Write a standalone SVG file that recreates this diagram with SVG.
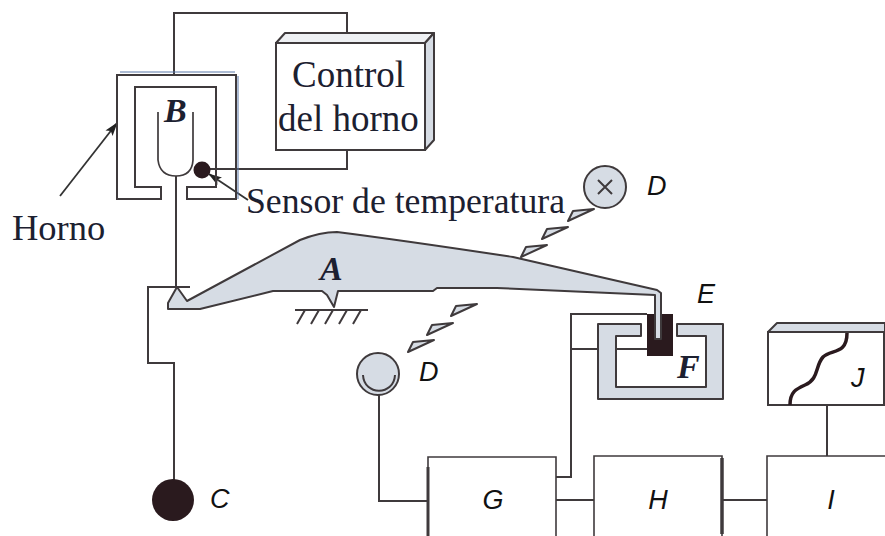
<svg xmlns="http://www.w3.org/2000/svg" width="885" height="536" viewBox="0 0 885 536">
<style>
.w{fill:none;stroke:#3f3a3c;stroke-width:2}
.s{fill:#d6dce4;stroke:#3f3a3c;stroke-width:2;stroke-linejoin:round}
.b{fill:#fff;stroke:#3f3a3c;stroke-width:1.6}
.t{font-family:"Liberation Serif",serif;font-size:36.5px;fill:#1c2030}
.l{font-family:"Liberation Serif",serif;font-size:34px;font-weight:bold;font-style:italic;fill:#1c2030}
.i{font-family:"Liberation Sans",Arial,sans-serif;font-size:27px;font-style:italic;fill:#111}
</style>
<defs>
<marker id="ah" markerWidth="14" markerHeight="9" refX="13" refY="4.5" orient="auto" markerUnits="userSpaceOnUse"><path d="M0 0L14 4.5L0 9L3 4.5Z" fill="#222"/></marker>
<polygon id="ray" points="0,12 5,2 26,0" class="s"/>
</defs>
<rect width="885" height="536" fill="#fff"/>
<g id="connectors">
<path class="w" d="M174 75V13H347V33"/>
<path class="w" d="M347 150V169H208"/>
<path class="w" d="M176 176V287"/>
<path class="w" d="M190 287H148V363H174V482"/>
<path class="w" d="M379 394V501H428"/>
<path class="w" d="M647 314H571V477H556"/>
<path class="w" d="M571 349H598"/>
<path class="w" d="M616 349H647"/>
<path class="w" d="M556 500H594"/>
<path class="w" d="M722 500H767"/>
<path class="w" d="M827 456V405"/>
<path fill="none" stroke="#333" stroke-width="1.8" d="M60 196L117 123" marker-end="url(#ah)"/>
<path fill="none" stroke="#333" stroke-width="1.8" d="M248 200L209 174" marker-end="url(#ah)"/>
</g>
<g id="horno">
<path d="M120 72H235M238 76V199" fill="none" stroke="#5a78a8" stroke-width="1"/>
<path class="w" d="M161 199V187H135V87H216V187H187V199H236V75H117V199Z"/>
<text class="t" x="12" y="240">Horno</text>
</g>
<g id="crucible">
<path class="w" d="M158 112V160Q160 176 176 176Q192 176 193 160V112" style="stroke-width:1.7"/>
<text class="l" x="164" y="122">B</text>
</g>
<g id="sensor">
<circle cx="202" cy="170" r="8.5" fill="#2a1a1e"/>
<text class="t" x="246" y="213" style="font-size:35.7px">Sensor de temperatura</text>
</g>
<g id="control">
<path class="s" d="M276 43L285 33H434L425 43Z" style="fill:#eef0f3"/>
<path class="s" d="M425 43L434 33V140L425 150Z"/>
<rect class="b" x="276" y="43" width="149" height="107" style="stroke-width:2"/>
<text class="t" x="292" y="87" style="font-size:37px">Control</text>
<text class="t" x="278" y="131" style="font-size:37px">del horno</text>
</g>
<g id="source-d">
<circle class="s" cx="605" cy="187" r="21"/>
<path class="w" d="M598 180L612 194M612 180L598 194"/>
<use href="#ray" x="568" y="209"/>
<use href="#ray" x="542" y="227"/>
<use href="#ray" x="521" y="245"/>
<text class="i" x="647" y="195">D</text>
</g>
<g id="detector-d">
<circle class="s" cx="378" cy="374" r="21"/>
<path class="w" d="M363 375C364 396 394 396 395 375"/>
<use href="#ray" x="451" y="304"/>
<use href="#ray" x="427" y="323"/>
<use href="#ray" x="408" y="340"/>
<text class="i" x="419" y="381">D</text>
</g>
<g id="magnet">
<path class="s" d="M641 324V336H616V387H706V336H677V324H723V399H598V324Z"/>
<rect x="647" y="314" width="26" height="42" fill="#2a1a1e"/>
<text class="l" x="677" y="378">F</text>
<text class="i" x="697" y="303">E</text>
</g>
<g id="beam">
<path class="s" d="M187 301L300 240Q320 232 337 232Q400 240 513 257L657 290L661 293V339H655V295L497 288H437L433 291H343L338 291L334 307L327 295L322 291H273L200 309H168V303L177 287Z"/>
<path class="w" d="M295 310H368M305 310L297 324M319 310L311 324M333 310L325 324M347 310L339 324M361 310L353 324"/>
<text class="l" x="320" y="280">A</text>
</g>
<g id="C">
<circle cx="173" cy="500" r="21" fill="#2a1a1e"/>
<text class="i" x="210" y="508">C</text>
</g>
<g id="G">
<path class="b" d="M428 536V457H556V536"/>
<path d="M428 467V536" stroke="#3f3a3c" stroke-width="3" fill="none"/>
<text class="i" x="493" y="509" text-anchor="middle">G</text>
</g>
<g id="H">
<path class="b" d="M594 536V456H722V536"/>
<path d="M722 458V534" stroke="#3f3a3c" stroke-width="3.500" fill="none"/>
<text class="i" x="658" y="509" text-anchor="middle">H</text>
</g>
<g id="I">
<path class="b" d="M767 536V456H885"/>
<text class="i" x="831" y="509" text-anchor="middle">I</text>
</g>
<g id="J">
<path class="s" d="M768 332L777 323H885V332Z"/>
<path class="w" d="M885 332H768V405H885M884 332V405"/>
<path d="M790 405C790 392 796 389 805 385C819 379 815 366 823 357C831 349 847 355 847 333" fill="none" stroke="#2a1a1e" stroke-width="3.500"/>
<text class="i" x="851" y="387">J</text>
</g>
</svg>
